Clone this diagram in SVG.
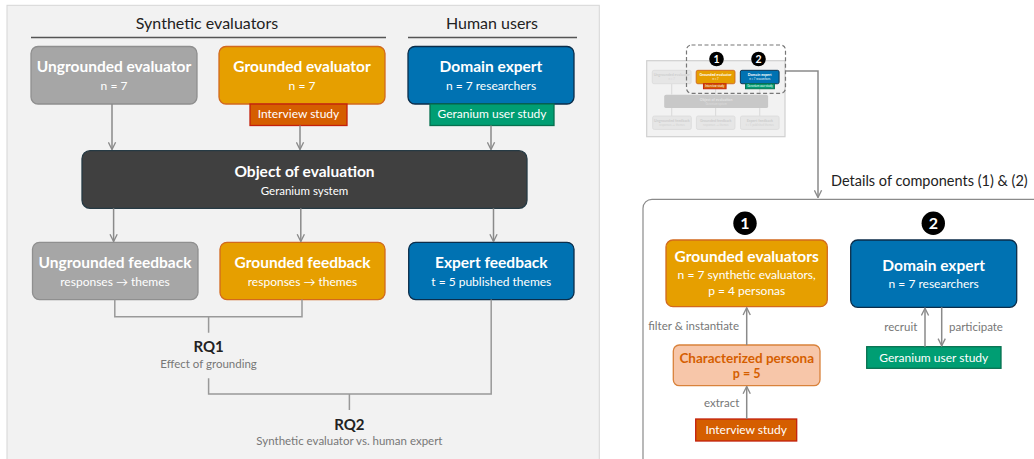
<svg xmlns="http://www.w3.org/2000/svg" width="1034" height="459" viewBox="0 0 1034 459">
<defs>
<marker id="ah" viewBox="0 0 10 10" refX="9" refY="5" markerWidth="9" markerHeight="9" markerUnits="userSpaceOnUse" orient="auto">
<path d="M1,1 L9,5 L1,9" fill="none" stroke="#8a8a8a" stroke-width="1.5"/>
</marker>
<style>
text{font-family:Lato,"Open Sans","Liberation Sans",sans-serif}
.h{font-size:16px;fill:#222;text-anchor:middle}
.t{font-size:15.5px;font-weight:bold;fill:#fff;text-anchor:middle}
.s{font-size:12px;fill:#fff;text-anchor:middle}
.g{font-size:11.5px;fill:#777}
.rq{font-size:15px;font-weight:bold;fill:#222;text-anchor:middle}
.gray{fill:#a6a6a6;stroke:#8f8f8f;stroke-width:1.3}
.org{fill:#e69f00;stroke:#d2691e;stroke-width:1.3}
.blu{fill:#0072b2;stroke:#0b2d4a;stroke-width:1.3}
.ver{fill:#d55e00;stroke:#c4200c;stroke-width:1.3}
.grn{fill:#009e73;stroke:#06704f;stroke-width:1.3}
.obj{fill:#404040;stroke:#263a44;stroke-width:1.3}
.ln{fill:none;stroke:#8a8a8a;stroke-width:1.5}
.br{fill:none;stroke:#999;stroke-width:1.5}
.badge{fill:#000}
.bn{font-weight:bold;fill:#fff;text-anchor:middle}
</style>
</defs>

<rect id="left-panel" x="7" y="5.3" width="592.3" height="460" fill="#f2f2f2" stroke="#d6d6d6" stroke-width="1"/>

<g id="headings">
<text class="h" x="207" y="29">Synthetic evaluators</text>
<text class="h" x="492" y="29">Human users</text>
<line x1="31" y1="37.5" x2="386" y2="37.5" stroke="#555" stroke-width="1.5"/>
<line x1="408" y1="37.5" x2="577" y2="37.5" stroke="#555" stroke-width="1.5"/>
</g>

<g id="ungrounded-evaluator">
<rect class="gray" x="31" y="46.5" width="166" height="57.5" rx="7"/>
<text class="t" x="114" y="72">Ungrounded evaluator</text>
<text class="s" x="114" y="90">n = 7</text>
</g>
<g id="grounded-evaluator">
<rect class="org" x="219" y="46.5" width="166" height="57.5" rx="7"/>
<text class="t" x="302" y="72">Grounded evaluator</text>
<text class="s" x="302" y="90">n = 7</text>
</g>
<g id="interview-study-tab">
<rect class="ver" x="250" y="104" width="97" height="21.5"/>
<text class="s" x="298.5" y="118">Interview study</text>
</g>
<g id="domain-expert">
<rect class="blu" x="408" y="46.5" width="166" height="57.5" rx="7"/>
<text class="t" x="491" y="72">Domain expert</text>
<text class="s" x="491" y="90">n = 7 researchers</text>
</g>
<g id="geranium-tab">
<rect class="grn" x="430" y="104" width="124" height="21.5"/>
<text class="s" x="492" y="118">Geranium user study</text>
</g>

<g id="object-of-evaluation">
<rect class="obj" x="82" y="150.7" width="445" height="57.6" rx="8"/>
<text class="t" x="304.5" y="177">Object of evaluation</text>
<text class="s" x="304.5" y="195" style="font-size:11.5px">Geranium system</text>
</g>

<g id="ungrounded-feedback">
<rect class="gray" x="32.5" y="242.3" width="165.5" height="57.3" rx="7"/>
<text class="t" x="115" y="268">Ungrounded feedback</text>
<text class="s" x="115" y="286">responses → themes</text>
</g>
<g id="grounded-feedback">
<rect class="org" x="220" y="242.3" width="165" height="57.3" rx="7"/>
<text class="t" x="302.5" y="268">Grounded feedback</text>
<text class="s" x="302.5" y="286">responses → themes</text>
</g>
<g id="expert-feedback">
<rect class="blu" x="408.7" y="242.3" width="165.3" height="57.3" rx="7"/>
<text class="t" x="491.3" y="268">Expert feedback</text>
<text class="s" x="491.3" y="286">t = 5 published themes</text>
</g>

<g id="rq1">
<text class="rq" x="208.6" y="352">RQ1</text>
<text class="g" x="208.6" y="367.5" text-anchor="middle">Effect of grounding</text>
</g>
<g id="rq2">
<text class="rq" x="349.4" y="429.5">RQ2</text>
<text class="g" x="349.4" y="445" text-anchor="middle">Synthetic evaluator vs. human expert</text>
</g>

<g id="thumbnail">
<g transform="translate(646.7,60.7) scale(0.2335) translate(-7,-5.3)">
<rect x="7" y="5.3" width="592.3" height="325.5" fill="#f2f2f2" stroke="#cfcfcf" stroke-width="5"/>
<g fill="none" stroke="#dcdcdc" stroke-width="5">
<path d="M114 104 V150 M302 125.5 V150 M491 125.5 V150 M114 208 V242 M302 208 V242 M491 208 V242"/>
</g>
<rect x="31" y="46.5" width="166" height="57.5" rx="7" fill="#e6e6e6" stroke="#dddddd" stroke-width="4"/>
<text class="t" x="114" y="72" style="fill:#cfcfcf">Ungrounded evaluator</text>
<text class="s" x="114" y="90" style="fill:#d4d4d4">n = 7</text>
<rect class="org" x="219" y="46.5" width="166" height="57.5" rx="7" style="stroke-width:4"/>
<text class="t" x="302" y="72">Grounded evaluator</text>
<text class="s" x="302" y="90">n = 7</text>
<rect class="ver" x="250" y="104" width="97" height="21.5" style="stroke-width:4"/>
<text class="s" x="298.5" y="118">Interview study</text>
<rect class="blu" x="408" y="46.5" width="166" height="57.5" rx="7" style="stroke-width:4"/>
<text class="t" x="491" y="72">Domain expert</text>
<text class="s" x="491" y="90">n = 7 researchers</text>
<rect class="grn" x="430" y="104" width="124" height="21.5" style="stroke-width:4"/>
<text class="s" x="492" y="118">Geranium user study</text>
<rect x="82" y="150.7" width="445" height="57.6" rx="8" fill="#c8c8c8"/>
<text class="t" x="304.5" y="177" style="fill:#e4e4e4">Object of evaluation</text>
<text class="s" x="304.5" y="195" style="fill:#dedede">Geranium system</text>
<rect x="32.5" y="242.3" width="165.5" height="57.3" rx="7" fill="#e6e6e6" stroke="#dddddd" stroke-width="4"/>
<text class="t" x="115" y="268" style="fill:#cdcdcd">Ungrounded feedback</text>
<text class="s" x="115" y="286" style="fill:#d2d2d2">responses → themes</text>
<rect x="220" y="242.3" width="165" height="57.3" rx="7" fill="#e6e6e6" stroke="#dddddd" stroke-width="4"/>
<text class="t" x="302.5" y="268" style="fill:#cdcdcd">Grounded feedback</text>
<text class="s" x="302.5" y="286" style="fill:#d2d2d2">responses → themes</text>
<rect x="408.7" y="242.3" width="165.3" height="57.3" rx="7" fill="#e6e6e6" stroke="#dddddd" stroke-width="4"/>
<text class="t" x="491.3" y="268" style="fill:#cdcdcd">Expert feedback</text>
<text class="s" x="491.3" y="286" style="fill:#d2d2d2">t = 5 published themes</text>
</g>
<rect x="686.5" y="45" width="99" height="48.3" rx="5" fill="none" stroke="#777" stroke-width="1.2" stroke-dasharray="4,2.5"/>
<circle class="badge" cx="716.5" cy="59" r="7.3"/>
<text class="bn" x="716.5" y="63" style="font-size:10.5px">1</text>
<circle class="badge" cx="758.5" cy="59" r="7.3"/>
<text class="bn" x="758.5" y="63" style="font-size:10.5px">2</text>
</g>

<g id="details-label">
<text x="831" y="186" style="font-size:14.5px;fill:#222">Details of components (1) &amp; (2)</text>
</g>

<rect id="detail-panel" x="643" y="199.3" width="420" height="300" rx="9" fill="#fff" stroke="#8a8a8a" stroke-width="1.2"/>

<g id="badge-1">
<circle class="badge" cx="745" cy="223.3" r="11.7"/>
<text class="bn" x="745" y="229" style="font-size:16px">1</text>
</g>
<g id="badge-2">
<circle class="badge" cx="933.3" cy="223.3" r="11.7"/>
<text class="bn" x="933.3" y="229" style="font-size:16px">2</text>
</g>

<g id="grounded-evaluators">
<rect class="org" x="666" y="240" width="161.3" height="66.7" rx="7"/>
<text class="t" x="746.7" y="262">Grounded evaluators</text>
<text class="s" x="746.7" y="279">n = 7 synthetic evaluators,</text>
<text class="s" x="746.7" y="295">p = 4 personas</text>
</g>
<g id="domain-expert-detail">
<rect class="blu" x="850.7" y="240" width="166" height="67.3" rx="7"/>
<text class="t" x="933.7" y="270.5">Domain expert</text>
<text class="s" x="933.7" y="288">n = 7 researchers</text>
</g>
<g id="characterized-persona">
<rect x="673.3" y="345" width="146.7" height="40.7" rx="6" fill="#f7c6a9" stroke="#d9823b" stroke-width="1.3"/>
<text x="746.7" y="362.5" text-anchor="middle" style="font-size:13.5px;font-weight:bold;fill:#d55e00">Characterized persona</text>
<text x="746.7" y="377.5" text-anchor="middle" style="font-size:12.5px;font-weight:bold;fill:#d55e00">p = 5</text>
</g>
<g id="interview-study-detail">
<rect class="ver" x="695.7" y="419" width="101" height="22"/>
<text class="s" x="746.2" y="434">Interview study</text>
</g>
<g id="geranium-detail">
<rect class="grn" x="866.7" y="346.7" width="134.3" height="21.6"/>
<text class="s" x="933.8" y="361.5">Geranium user study</text>
</g>

<g id="connectors">
<path class="ln" d="M112 104 V149.5" marker-end="url(#ah)"/>
<path class="ln" d="M300 125.5 V149.5" marker-end="url(#ah)"/>
<path class="ln" d="M491 125.5 V149.5" marker-end="url(#ah)"/>
<path class="ln" d="M113.6 208.3 V241.5" marker-end="url(#ah)"/>
<path class="ln" d="M300.8 208.3 V241.5" marker-end="url(#ah)"/>
<path class="ln" d="M493.5 208.3 V241.5" marker-end="url(#ah)"/>
<path class="br" d="M114.8 299.6 V316.7 H302 V299.6 M208.6 316.7 V332.7"/>
<path class="br" d="M208.6 378.3 V394 H491.2 V299.6 M349.4 394 V410"/>
<path class="ln" d="M786 71 H818 V197.5" marker-end="url(#ah)"/>
<path class="ln" d="M746.7 345 V307.8" marker-end="url(#ah)"/>
<path class="ln" d="M746.7 419 V386.5" marker-end="url(#ah)"/>
<path class="ln" d="M925 346.7 V308.3" marker-end="url(#ah)"/>
<path class="ln" d="M941.7 307.3 V345.8" marker-end="url(#ah)"/>
<text class="g" x="739" y="330" text-anchor="end">filter &amp; instantiate</text>
<text class="g" x="739.3" y="406.5" text-anchor="end">extract</text>
<text class="g" x="917.3" y="331" text-anchor="end">recruit</text>
<text class="g" x="949" y="331">participate</text>
</g>
</svg>
